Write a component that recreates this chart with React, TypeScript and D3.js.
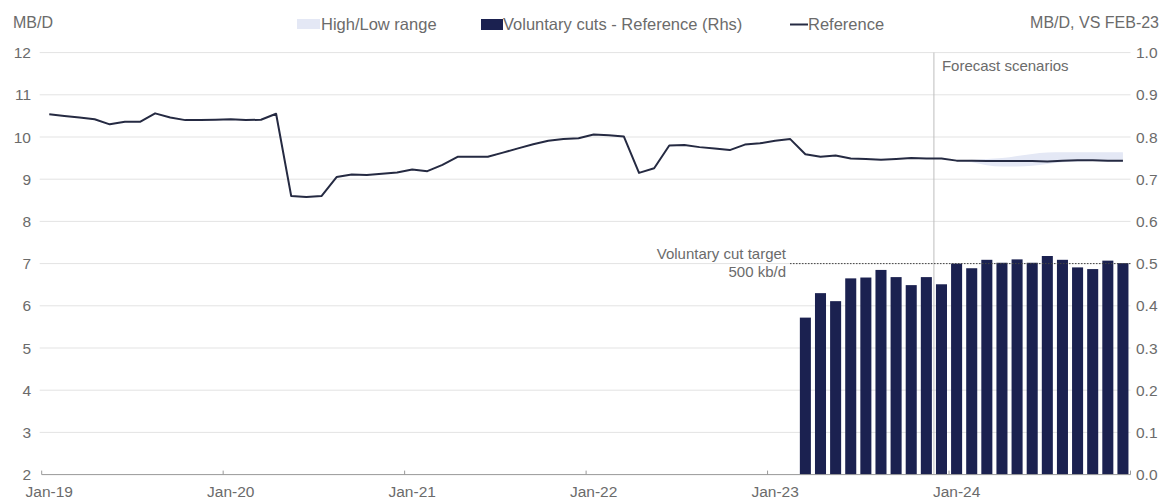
import React, { useEffect, useRef } from "react";
import * as d3 from "d3";

// monthly categories Jan-19 .. Dec-24
const months = d3.timeMonths(new Date(2019, 0, 1), new Date(2025, 0, 1));

// Reference, mb/d (lhs)
const reference = [
  10.54, 10.5, 10.46, 10.42, 10.3, 10.36, 10.36, 10.56, 10.46, 10.4, 10.4, 10.41,
  10.42, 10.4, 10.41, 10.55, 8.6, 8.58, 8.6, 9.05, 9.11, 9.1, 9.13, 9.16,
  9.23, 9.19, 9.34, 9.53, 9.53, 9.53, 9.63, 9.73, 9.83, 9.91, 9.95, 9.97,
  10.06, 10.04, 10.01, 9.15, 9.26, 9.8, 9.81, 9.76, 9.73, 9.69, 9.82, 9.85,
  9.91, 9.95, 9.59, 9.53, 9.56, 9.49, 9.48, 9.46, 9.48, 9.5, 9.49, 9.49,
  9.44, 9.44, 9.43, 9.43, 9.43, 9.43, 9.42, 9.44, 9.45, 9.45, 9.44, 9.44,
];

// High/Low range over the forecast year (Jan-24 .. Dec-24)
const rangeStart = 60;
const rangeHigh = [9.44, 9.46, 9.48, 9.5, 9.55, 9.6, 9.63, 9.64, 9.64, 9.64, 9.64, 9.64];
const rangeLow = [9.44, 9.4, 9.33, 9.3, 9.3, 9.32, 9.36, 9.4, 9.42, 9.43, 9.42, 9.42];

// Voluntary cuts - Reference (rhs), Mar-23 .. Dec-24
const cutsStart = 50;
const cuts = [
  0.372, 0.43, 0.411, 0.465, 0.467, 0.485, 0.468, 0.449, 0.468, 0.451,
  0.5, 0.489, 0.509, 0.502, 0.51, 0.502, 0.518, 0.509, 0.491, 0.487, 0.507, 0.501,
];

const leftTicks = [2, 3, 4, 5, 6, 7, 8, 9, 10, 11, 12];
const rightTicks = [0, 0.1, 0.2, 0.3, 0.4, 0.5, 0.6, 0.7, 0.8, 0.9, 1.0];
const cutTarget = 0.5;
const forecastIndex = 59; // Dec-23

export default function App() {
  const ref = useRef<SVGSVGElement>(null);

  useEffect(() => {
    const svg = d3.select(ref.current);
    svg.selectAll("*").remove();

    const W = 1171, H = 501;
    const left = 41.7, right = 1130.5, top = 52.6, bottom = 474.6;
    const font = "'Liberation Sans', Arial, sans-serif";
    const textCol = "#6b6b6b";
    const navy = "#1b2150";

    const keys = months.map((d) => d3.timeFormat("%b-%y")(d));
    const x = d3.scaleBand().domain(keys).range([left, right]).padding(0);
    const xBar = d3.scaleBand().domain(keys).range([left, right]).paddingInner(0.27).paddingOuter(0.135);
    const cx = (i: number) => (x(keys[i]) as number) + x.bandwidth() / 2;

    const yL = d3.scaleLinear().domain([2, 12]).range([bottom, top]);
    const yR = d3.scaleLinear().domain([0, 1]).range([bottom, top]);

    svg.attr("width", W).attr("height", H);

    // gridlines
    svg.append("g")
      .selectAll("line")
      .data(leftTicks.slice(1))
      .join("line")
      .attr("x1", left - 2)
      .attr("x2", right)
      .attr("y1", (d) => yL(d))
      .attr("y2", (d) => yL(d))
      .attr("stroke", "#e3e3e3")
      .attr("stroke-width", 1);

    // left axis labels
    svg.append("g")
      .selectAll("text")
      .data(leftTicks)
      .join("text")
      .attr("x", 31)
      .attr("y", (d) => yL(d) + 5.5)
      .attr("text-anchor", "end")
      .attr("font-family", font)
      .attr("font-size", 15.5)
      .attr("fill", textCol)
      .text((d) => d);

    // right axis labels
    svg.append("g")
      .selectAll("text")
      .data(rightTicks)
      .join("text")
      .attr("x", 1136)
      .attr("y", (d) => yR(d) + 5.5)
      .attr("font-family", font)
      .attr("font-size", 15.5)
      .attr("fill", textCol)
      .text((d) => d.toFixed(1));

    // high/low band
    const bandData = rangeHigh.map((h, i) => ({ i: rangeStart + i, h, l: rangeLow[i] }));
    svg.append("path")
      .datum(bandData)
      .attr("fill", "#e4e8f5")
      .attr("d", d3.area<any>().x((d) => cx(d.i)).y0((d) => yL(d.l)).y1((d) => yL(d.h)).curve(d3.curveMonotoneX));

    // bars
    svg.append("g")
      .selectAll("rect")
      .data(cuts)
      .join("rect")
      .attr("x", (d, i) => xBar(keys[cutsStart + i]) as number)
      .attr("width", xBar.bandwidth())
      .attr("y", (d) => yR(d))
      .attr("height", (d) => yR(0) - yR(d))
      .attr("fill", navy);

    // forecast divider
    const fx = x(keys[forecastIndex]) as number;
    svg.append("line")
      .attr("x1", fx).attr("x2", fx)
      .attr("y1", top).attr("y2", bottom)
      .attr("stroke", "#bdbdbd").attr("stroke-width", 1);
    svg.append("text")
      .attr("x", fx + 8).attr("y", 71)
      .attr("font-family", font).attr("font-size", 15).attr("fill", textCol)
      .text("Forecast scenarios");

    // target line
    svg.append("line")
      .attr("x1", 790).attr("x2", right)
      .attr("y1", yR(cutTarget)).attr("y2", yR(cutTarget))
      .attr("stroke", "#444").attr("stroke-width", 1).attr("stroke-dasharray", "1.5,1.5");
    svg.append("text")
      .attr("x", 786).attr("y", yR(cutTarget) - 5)
      .attr("text-anchor", "end")
      .attr("font-family", font).attr("font-size", 15).attr("fill", textCol)
      .text("Voluntary cut target");
    svg.append("text")
      .attr("x", 786).attr("y", yR(cutTarget) + 13)
      .attr("text-anchor", "end")
      .attr("font-family", font).attr("font-size", 15).attr("fill", textCol)
      .text("500 kb/d");

    // reference line
    svg.append("path")
      .datum(reference)
      .attr("fill", "none")
      .attr("stroke", "#252a42")
      .attr("stroke-width", 2)
      .attr("stroke-linejoin", "round")
      .attr("d", d3.line<number>().x((d, i) => cx(i)).y((d) => yL(d)));

    // x axis
    svg.append("line")
      .attr("x1", left).attr("x2", right)
      .attr("y1", bottom).attr("y2", bottom)
      .attr("stroke", "#999").attr("stroke-width", 1);
    const yearIdx = keys.map((k, i) => i).filter((i) => i % 12 === 0);
    svg.append("g")
      .selectAll("line")
      .data([...yearIdx, keys.length])
      .join("line")
      .attr("x1", (i) => (i < keys.length ? (x(keys[i]) as number) : right))
      .attr("x2", (i) => (i < keys.length ? (x(keys[i]) as number) : right))
      .attr("y1", bottom - 4).attr("y2", bottom)
      .attr("stroke", "#999");
    svg.append("g")
      .selectAll("text")
      .data(yearIdx)
      .join("text")
      .attr("x", (i) => cx(i))
      .attr("y", 497)
      .attr("text-anchor", "middle")
      .attr("font-family", font).attr("font-size", 15.5).attr("fill", textCol)
      .text((i) => keys[i]);

    // titles
    svg.append("text")
      .attr("x", 13).attr("y", 28)
      .attr("font-family", font).attr("font-size", 16).attr("fill", textCol)
      .text("MB/D");
    svg.append("text")
      .attr("x", 1159).attr("y", 28)
      .attr("text-anchor", "end")
      .attr("font-family", font).attr("font-size", 16).attr("fill", textCol)
      .text("MB/D, VS FEB-23");

    // legend
    const lg = svg.append("g").attr("font-family", font).attr("font-size", 16.5).attr("fill", textCol);
    lg.append("rect").attr("x", 297).attr("y", 19).attr("width", 23).attr("height", 10).attr("fill", "#e4e8f5");
    lg.append("text").attr("x", 321).attr("y", 30).text("High/Low range");
    lg.append("rect").attr("x", 481).attr("y", 19).attr("width", 22).attr("height", 11).attr("fill", navy);
    lg.append("text").attr("x", 503).attr("y", 30).text("Voluntary cuts - Reference (Rhs)");
    lg.append("line").attr("x1", 790).attr("x2", 808).attr("y1", 24.5).attr("y2", 24.5).attr("stroke", "#252a42").attr("stroke-width", 2);
    lg.append("text").attr("x", 808).attr("y", 30).text("Reference");
  }, []);

  return (
    <svg
      ref={ref}
      style={{ position: "absolute", left: 0, top: 0, display: "block", background: "#fff" }}
    />
  );
}
